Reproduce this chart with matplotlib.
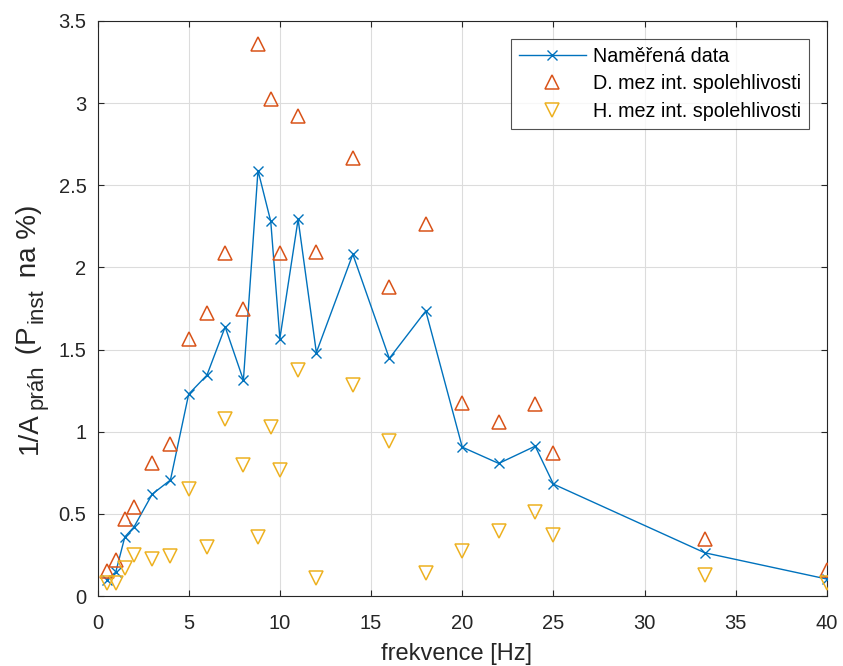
import matplotlib
matplotlib.use("Agg")
import matplotlib.pyplot as plt

freq = [0.5, 1, 1.5, 2, 3, 4, 5, 6, 7, 8, 8.8, 9.5, 10, 11, 12, 14, 16, 18, 20, 22, 24, 25, 33.3, 40]
measured = [0.10, 0.145, 0.36, 0.42, 0.62, 0.706, 1.229, 1.344, 1.638, 1.314, 2.59, 2.28, 1.567, 2.293,
            1.482, 2.08, 1.446, 1.735, 0.906, 0.807, 0.912, 0.681, 0.263, 0.103]
lower_ci = [0.152, 0.219, 0.468, 0.543, 0.811, 0.923, 1.567, 1.72, 2.085, 1.75, 3.357, 3.027, 2.085, 2.92,
            2.094, 2.668, 1.881, 2.267, 1.176, 1.06, 1.17, 0.872, 0.345, 0.158]
upper_ci = [0.077, 0.077, 0.168, 0.249, 0.223, 0.243, 0.649, 0.30, 1.08, 0.80, 0.36, 1.03, 0.77, 1.375,
            0.11, 1.283, 0.943, 0.14, 0.274, 0.397, 0.513, 0.371, 0.128, 0.081]

xticks = [0, 5, 10, 15, 20, 25, 30, 35, 40]
yticks = [0, 0.5, 1, 1.5, 2, 2.5, 3, 3.5]
ytick_labels = ['0', '0.5', '1', '1.5', '2', '2.5', '3', '3.5']
series_labels = ['Naměřená data', 'D. mez int. spolehlivosti', 'H. mez int. spolehlivosti']
ylabel_parts = [('1/A', False), ('práh', True), (' (P', False), ('inst', True), (' na %)', False)]

plt.rcParams['font.family'] = ['Liberation Sans', 'DejaVu Sans']

W, H = 843, 666
fig = plt.figure(figsize=(W / 100, H / 100), dpi=100)
ax = fig.add_axes([97.5 / W, 70 / H, (827 - 97.5) / W, (596 - 21) / H])

blue = '#0072BD'
red = '#D95319'
yellow = '#EDB120'
dark = '#262626'

ax.plot(freq, measured, color=blue, lw=1.0, marker='x', markersize=7, markeredgewidth=1.0,
        label=series_labels[0], zorder=3)
ax.plot(freq, lower_ci, ls='none', marker='^', markersize=10, markerfacecolor='none',
        markeredgecolor=red, markeredgewidth=1.1, label=series_labels[1], zorder=3)
ax.plot(freq, upper_ci, ls='none', marker='v', markersize=10, markerfacecolor='none',
        markeredgecolor=yellow, markeredgewidth=1.1, label=series_labels[2], zorder=3)

ax.set_xlim(0, 40)
ax.set_ylim(0, 3.5)
ax.set_xticks(xticks)
ax.set_yticks(yticks)
ax.set_xticklabels([str(t) for t in xticks])
ax.set_yticklabels(ytick_labels)
ax.grid(True, color='#DCDCDC', lw=0.8)
ax.set_axisbelow(True)
ax.tick_params(direction='in', length=4, colors=dark, labelsize=14.5, top=True, right=True,
               labelcolor=dark)
ax.tick_params(axis='y', pad=8)
ax.tick_params(axis='x', pad=13)
for s in ax.spines.values():
    s.set_color(dark)
    s.set_linewidth(0.8)

ax.set_xlabel('frekvence [Hz]', fontsize=17, color=dark)
ax.xaxis.set_label_coords(0.492, -0.082)

leg = ax.legend(loc='upper right', fontsize=14.2, frameon=True, fancybox=False, edgecolor=dark,
                borderaxespad=0.9, handlelength=3.4, handletextpad=0.35, labelspacing=0.42,
                borderpad=0.42)
leg.get_frame().set_linewidth(0.8)

# y label built from pieces (main text + larger-than-mathtext subscripts)
fig.canvas.draw()
renderer = fig.canvas.get_renderer()
x_base = 36.5
y_cur = H - 454.0
for txt, is_sub in ylabel_parts:
    size = 16 if is_sub else 20
    xb = x_base + (6.0 if is_sub else 0.0)
    t = fig.text(xb, y_cur, txt, transform=None, rotation=90, rotation_mode='anchor',
                 ha='left', va='baseline', fontsize=size, color=dark)
    ext = t.get_window_extent(renderer=renderer)
    y_cur = ext.y1 + 3.0

fig.savefig('out.png', dpi=100)
